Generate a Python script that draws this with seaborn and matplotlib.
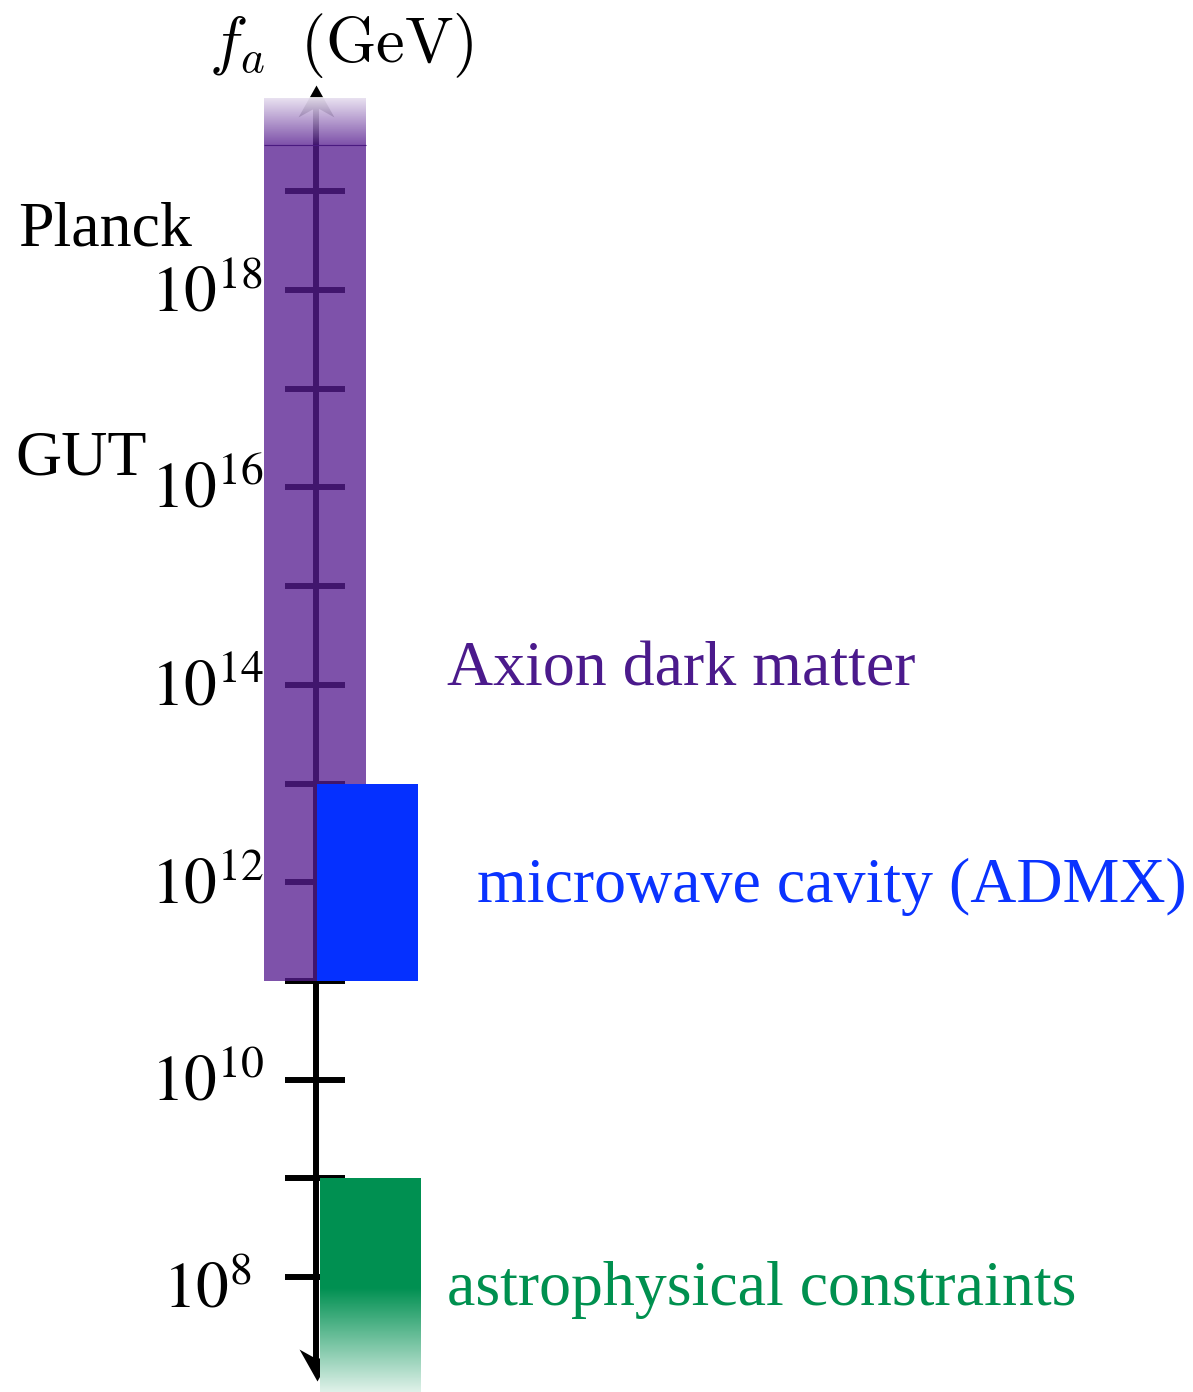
import numpy as np
import seaborn as sns
import matplotlib.pyplot as plt
from matplotlib.path import Path

# values (exponents of f_a in GeV)
tick_exps = list(range(8, 20))
label_exps = [8, 10, 12, 14, 16, 18]
region_names = ["Axion dark matter", "microwave cavity (ADMX)", "astrophysical constraints"]
region_low = [11, 11, 6.8]
region_high = [19.95, 13, 9]
region_colors = ["#561d90", "#0530ff", "#009051"]
region_alpha = [0.765, 1.0, 1.0]
text_colors = ["#4b1a8c", "#0a33ff", "#00904f"]
scale_names = ["Planck", "GUT"]

sns.set_theme(style="white")
plt.rcParams['font.family'] = ['Liberation Serif', 'DejaVu Serif']
plt.rcParams['text.color'] = 'black'

W, H = 1193, 1392
fig = plt.figure(figsize=(W / 100, H / 100), dpi=100)
ax = fig.add_axes([0, 0, 1, 1])


def ypx(p):
    # pixel row -> exponent
    return 8 + (1277 - p) / 98.7


ax.set_xlim(0, W)
ax.set_ylim(ypx(H), ypx(0))
ax.axis("off")

# axis line with ticks
AX_X = 316
lw = 4.3
ax.plot([AX_X, AX_X], [ypx(1370), ypx(100)], color="black", lw=lw, zorder=1, solid_capstyle="butt")
ax.hlines(tick_exps, 285, 345, color="black", lw=lw, zorder=1)

stealth_up = Path([(0, 0), (-18, -32), (0, -22), (18, -32), (0, 0)],
                  [Path.MOVETO, Path.LINETO, Path.LINETO, Path.LINETO, Path.CLOSEPOLY])
stealth_down = Path([(0, 0), (-18, 32), (0, 22), (18, 32), (0, 0)],
                    [Path.MOVETO, Path.LINETO, Path.LINETO, Path.LINETO, Path.CLOSEPOLY])
ax.plot([AX_X], [ypx(85)], marker=stealth_up, ms=46, color="black", mew=0, zorder=1)
ax.plot([AX_X + 1], [ypx(1381)], marker=stealth_down, ms=46, color="black", mew=0, zorder=1)

# bands
band_x = [315, 367.5, 370.5]
band_w = [102, 101, 101]
for i in range(3):
    ax.bar(band_x[i], region_high[i] - region_low[i], bottom=region_low[i], width=band_w[i],
           color=region_colors[i], alpha=region_alpha[i], linewidth=0, zorder=2 + i)

# white fades at the open ends
def fade(x0, x1, y0, y1, a0, a1):
    n = 200
    img = np.ones((n, 1, 4))
    img[:, 0, 3] = np.linspace(a0, a1, n)
    ax.imshow(img, extent=(x0, x1, y0, y1), origin="lower", aspect="auto",
              interpolation="bilinear", zorder=6)

solid_top = ypx(145)
fade(264, 366, solid_top, region_high[0], 0.0, 0.85)
ax.hlines(solid_top, 264, 366, color="#4a1a80", lw=0.8, zorder=6)
fade(320, 421, ypx(1287), ypx(H), 0.0, 0.88)
ax.set_xlim(0, W)
ax.set_ylim(ypx(H), ypx(0))

# tick labels
for e in label_exps:
    off = -30 if e == 8 else -21
    ax.annotate(r"$10^{%d}$" % e, xy=(207, e), xytext=(0, off), textcoords="offset pixels",
                ha="center", va="baseline", fontsize=47, color="black",
                math_fontfamily="stix", zorder=7)

# scale labels
ax.text(18, ypx(245), scale_names[0], fontsize=46, ha="left", va="baseline", color="black")
ax.text(15, ypx(475), scale_names[1], fontsize=46, ha="left", va="baseline", color="black")

# region labels
lab_x = [447, 477, 447]
lab_base = [685, 902, 1305]
for i in range(3):
    ax.text(lab_x[i], ypx(lab_base[i]), region_names[i], color=text_colors[i],
            fontsize=46, ha="left", va="baseline")

# axis title
ax.text(341, ypx(62), r"$f_a\;\;(\mathrm{GeV})$", fontsize=46.5, ha="center",
        va="baseline", color="black", math_fontfamily="cm")

fig.savefig("out.png", dpi=100)
